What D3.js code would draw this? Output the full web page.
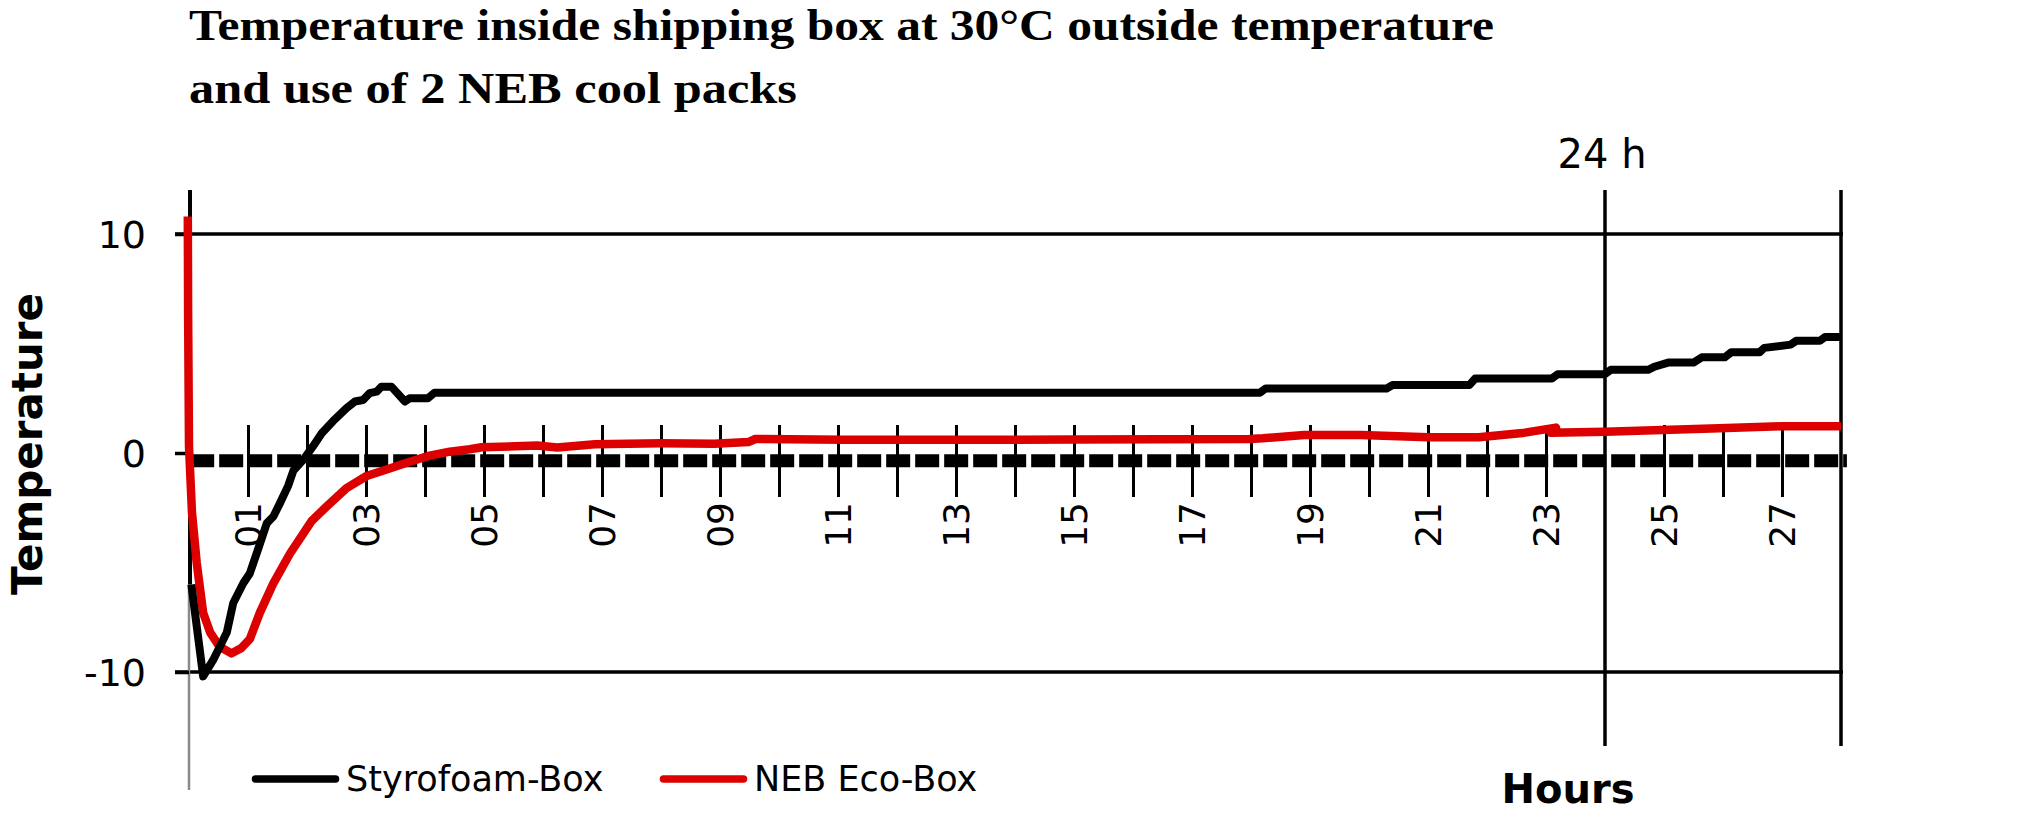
<!DOCTYPE html>
<html>
<head>
<meta charset="utf-8">
<script src="https://cdn.jsdelivr.net/npm/d3@7/dist/d3.min.js"></script>
<style>
  html, body { margin: 0; padding: 0; background: #fff; }
  svg { display: block; }
</style>
</head>
<body>
<svg id="chart" width="2043" height="817"></svg>
<script>
// ---------- DATA ----------
const titleLines = ["Temperature inside shipping box at 30°C outside temperature", "and use of 2 NEB cool packs"];
const seriesNames = ["Styrofoam-Box", "NEB Eco-Box"];
const seriesColors = ["#000000", "#dc0000"];

// Styrofoam-Box: [hour, °C]
const styroHours = [0.04, 0.24, 0.41, 0.64, 0.75, 0.92, 1.03, 1.17, 1.32, 1.43, 1.54, 1.68, 1.77, 1.94, 2.1, 2.25, 2.44, 2.67, 2.81, 2.95, 3.06, 3.18, 3.26, 3.43, 3.66, 3.74, 4.05, 4.16, 18.15, 18.25, 20.3, 20.4, 21.7, 21.8, 23.1, 23.2, 24.0, 24.1, 24.73, 24.85, 25.07, 25.5, 25.64, 26.03, 26.14, 26.62, 26.7, 27.15, 27.24, 27.64, 27.73, 28.0];
const styroTemps = [-6.0, -10.2, -9.45, -8.2, -6.85, -5.95, -5.5, -4.4, -3.2, -2.9, -2.3, -1.5, -0.8, -0.3, 0.3, 0.9, 1.45, 2.05, 2.35, 2.42, 2.73, 2.8, 3.03, 3.03, 2.35, 2.5, 2.5, 2.75, 2.75, 2.95, 2.95, 3.1, 3.1, 3.4, 3.4, 3.6, 3.6, 3.8, 3.8, 3.95, 4.13, 4.13, 4.37, 4.37, 4.6, 4.6, 4.8, 4.95, 5.12, 5.12, 5.3, 5.3];

// NEB Eco-Box: [hour, °C]
const nebHours = [-0.02, -0.015, 0.0, 0.05, 0.13, 0.24, 0.36, 0.52, 0.72, 0.89, 1.03, 1.2, 1.43, 1.71, 2.08, 2.33, 2.67, 3.01, 3.35, 3.74, 4.08, 4.42, 4.76, 4.96, 5.9, 6.24, 6.88, 8.0, 8.9, 9.48, 9.6, 11.1, 13.0, 15.0, 17.97, 18.2, 18.9, 19.87, 21.0, 21.86, 22.6, 23.17, 23.08, 24.0, 25.8, 27.0, 28.0];
const nebTemps = [10.8, 6.4, 0.3, -2.7, -5.0, -7.3, -8.2, -8.85, -9.15, -8.9, -8.5, -7.3, -5.95, -4.6, -3.1, -2.45, -1.6, -1.05, -0.75, -0.4, -0.12, 0.06, 0.17, 0.26, 0.34, 0.25, 0.4, 0.44, 0.42, 0.5, 0.64, 0.6, 0.6, 0.62, 0.64, 0.67, 0.82, 0.82, 0.72, 0.72, 0.91, 1.16, 0.92, 0.97, 1.12, 1.22, 1.22];

// dashed reference line (0 °C marker band)
const refHours = [0.02, 28.1];
const refTemps = [-0.35, -0.35];

// y axis: black upper part, grey lower part (°C where colour changes)
const yAxisSplit = -6.0;

const xTickHours = [1,2,3,4,5,6,7,8,9,10,11,12,13,14,15,16,17,18,19,20,21,22,23,25,26,27];
const yTickValues = [-10, 0, 10];
const gridValues = [-10, 10];
const markerHours = [24, 28];
const markerLabel = "24 h";
const xTitle = "Hours";
const yTitle = "Temperature";

// ---------- LAYOUT ----------
const svg = d3.select("#chart");
const x = d3.scaleLinear().domain([0, 28]).range([189, 1841]);
const y = d3.scaleLinear().domain([-10, 10]).range([672, 234]);
const sans = "'DejaVu Sans', Verdana, sans-serif";

// title
const title = svg.append("g");
const titleWidths = [1305, 608];
titleLines.forEach((t, i) => {
  title.append("text")
    .attr("x", 189).attr("y", 40 + i * 63)
    .attr("font-family", "'Liberation Serif', 'Times New Roman', serif")
    .attr("font-weight", "bold").attr("font-size", 44)
    .attr("textLength", titleWidths[i]).attr("lengthAdjust", "spacingAndGlyphs")
    .text(t);
});

// horizontal gridlines
svg.append("g").selectAll("line").data(gridValues).join("line")
  .attr("x1", 175).attr("x2", x(28) + 2)
  .attr("y1", d => y(d)).attr("y2", d => y(d))
  .attr("stroke", "#000").attr("stroke-width", 3.5);

// y axis (black upper / grey lower line + ticks + labels)
svg.append("line")
  .attr("x1", x(0)).attr("x2", x(0)).attr("y1", y(yAxisSplit)).attr("y2", 790)
  .attr("stroke", "#8a8a8a").attr("stroke-width", 2.5);
svg.append("line")
  .attr("x1", x(0) + 1).attr("x2", x(0) + 1).attr("y1", 190).attr("y2", y(yAxisSplit))
  .attr("stroke", "#000").attr("stroke-width", 4);

const yAxis = svg.append("g").attr("transform", `translate(${x(0)},0)`)
  .call(d3.axisLeft(y).tickValues(yTickValues).tickSize(14).tickPadding(29).tickFormat(d => String(d)));
yAxis.select(".domain").remove();
yAxis.selectAll(".tick line").attr("stroke", "#000").attr("stroke-width", 3.5);
yAxis.selectAll(".tick text")
  .attr("font-family", sans).attr("font-size", 38).attr("fill", "#000")
  .attr("dy", "0.36em");

// dashed 0-band
const line = d3.line().x(d => x(d[0])).y(d => y(d[1]));
svg.append("path")
  .datum(d3.zip(refHours, refTemps))
  .attr("d", line)
  .attr("fill", "none").attr("stroke", "#000")
  .attr("stroke-width", 13).attr("stroke-dasharray", "24,5");

// x axis ticks + labels
const xAxis = svg.append("g").attr("transform", "translate(0,425)")
  .call(d3.axisBottom(x).tickValues(xTickHours).tickSize(72)
    .tickFormat(d => d % 2 === 1 ? d3.format("02d")(d) : ""));
xAxis.select(".domain").remove();
xAxis.selectAll(".tick line").attr("stroke", "#000").attr("stroke-width", 3);
xAxis.selectAll(".tick text")
  .attr("font-family", sans).attr("font-size", 36).attr("fill", "#000")
  .attr("transform", "rotate(-90)")
  .attr("x", -77).attr("y", 0).attr("dy", "0.36em")
  .attr("text-anchor", "end");

// tall marker lines at 24 h and 28 h
svg.append("g").selectAll("line").data(markerHours).join("line")
  .attr("x1", d => x(d)).attr("x2", d => x(d))
  .attr("y1", 190).attr("y2", 746)
  .attr("stroke", "#000").attr("stroke-width", 3.5);

svg.append("text")
  .attr("x", x(24) - 3).attr("y", 168)
  .attr("text-anchor", "middle")
  .attr("font-family", sans).attr("font-size", 40)
  .text(markerLabel);

// series
const seriesData = [d3.zip(nebHours, nebTemps), d3.zip(styroHours, styroTemps)];
const seriesCol = [seriesColors[1], seriesColors[0]];
seriesData.forEach((s, i) => {
  svg.append("path")
    .datum(s)
    .attr("d", line)
    .attr("fill", "none")
    .attr("stroke", seriesCol[i])
    .attr("stroke-width", i === 0 ? 8.5 : 8)
    .attr("stroke-linejoin", "round")
    .attr("stroke-linecap", "butt");
});

// axis titles
svg.append("text")
  .attr("transform", "translate(41.7,444) rotate(-90)")
  .attr("text-anchor", "middle")
  .attr("font-family", sans).attr("font-weight", "bold").attr("font-size", 42)
  .text(yTitle);

svg.append("text")
  .attr("x", 1568).attr("y", 803)
  .attr("text-anchor", "middle")
  .attr("font-family", sans).attr("font-weight", "bold").attr("font-size", 40)
  .text(xTitle);

// legend
const legendX = [255.5, 663.5];
const legend = svg.append("g");
seriesNames.forEach((n, i) => {
  legend.append("line")
    .attr("x1", legendX[i]).attr("x2", legendX[i] + 80)
    .attr("y1", 779).attr("y2", 779)
    .attr("stroke", seriesColors[i]).attr("stroke-width", 7.5)
    .attr("stroke-linecap", "round");
  legend.append("text")
    .attr("x", legendX[i] + 90.5).attr("y", 791)
    .attr("font-family", sans).attr("font-size", 35)
    .text(n);
});
</script>
</body>
</html>
